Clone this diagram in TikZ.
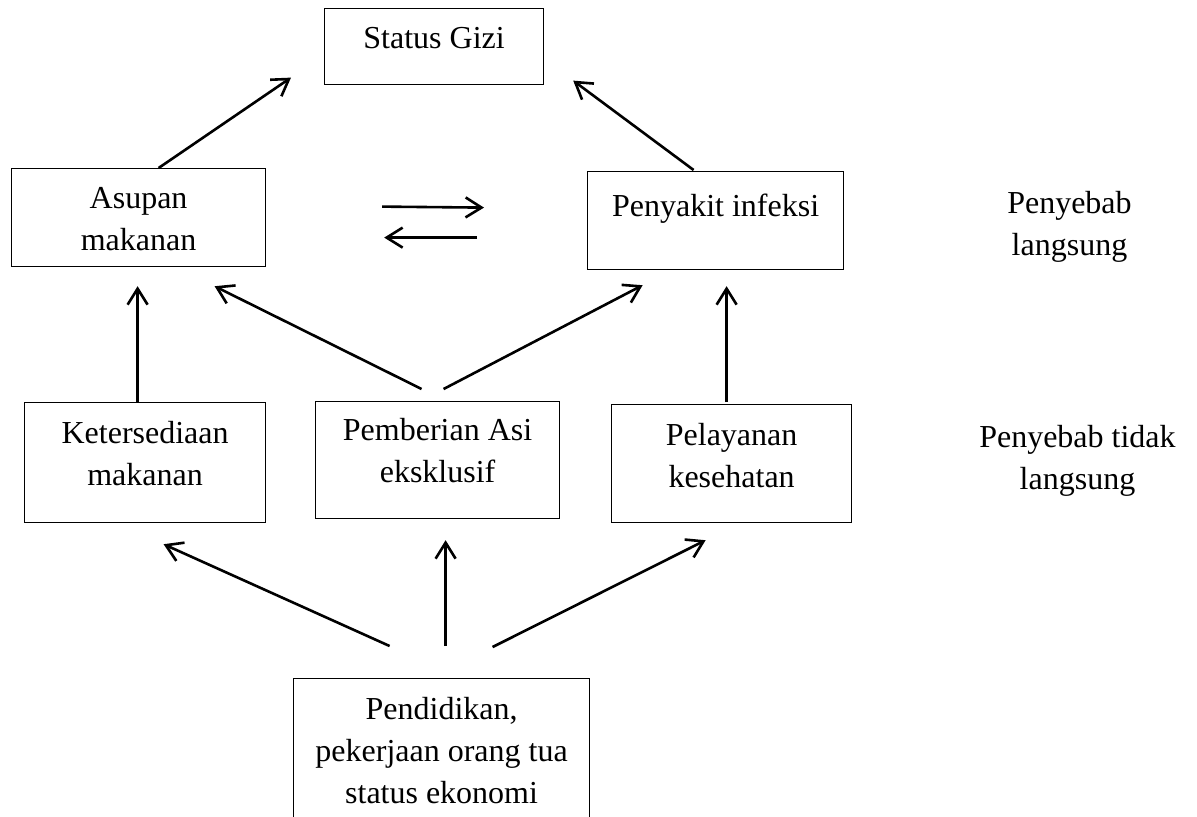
\documentclass[tikz,border=0pt]{standalone}
\usepackage{fontspec}
\setmainfont{Liberation Serif}
\usetikzlibrary{arrows.meta,positioning}

\begin{document}
\begin{tikzpicture}[x=0.5pt, y=-0.5pt,
	font=\fontsize{16}{21}\selectfont,
	box/.style={draw, line width=0.6pt, anchor=north west, align=center, inner xsep=0pt, inner ysep=0pt},
	arrow/.style={line width=1.3pt, -{Straight Barb[length=8pt, width=10pt]}}]
	\path [use as bounding box, clip] (0,0) rectangle (1197,816);

	\node [box, minimum width=109.5pt, text height=20pt, text depth=18pt] (status) at (324,8) {Status Gizi};
	\node [box, minimum width=127pt, text height=41pt, text depth=8pt] (asupan) at (11,168) {Asupan\\makanan};
	\node [box, minimum width=128pt, text height=22.5pt, text depth=26.5pt] (penyakit) at (587,171) {Penyakit infeksi};
	\node [box, minimum width=120.5pt, text height=41.5pt, text depth=18.5pt] (sedia) at (24,402) {Ketersediaan\\makanan};
	\node [box, minimum width=122pt, text height=40.5pt, text depth=18pt] (asi) at (315,401) {Pemberian Asi\\eksklusif};
	\node [box, minimum width=120pt, text height=41.5pt, text depth=17.5pt] (layanan) at (611,404) {Pelayanan\\kesehatan};
	\node [box, minimum width=148pt, text height=62.5pt, text depth=15pt] (didik) at (293,678) {Pendidikan,\\pekerjaan orang tua\\status ekonomi};

	\node [align=center, right=78pt of penyakit, yshift=-3.25pt] (langsung) {Penyebab\\langsung};
	\node [align=center, right=60pt of layanan, yshift=1.5pt] (tidaklangsung) {Penyebab tidak\\langsung};

	\draw [arrow] ([shift={(20,0)}]asupan.north) -- ([shift={(-33,31)}]status.west);
	\draw [arrow] ([shift={(-22,-1)}]penyakit.north) -- ([shift={(29,34)}]status.east);
	\draw [arrow] ([shift={(116,-11)}]asupan.east) -- ([shift={(-103,-13)}]penyakit.west);
	\draw [arrow] ([shift={(-110,17)}]penyakit.west) -- ([shift={(118,20)}]asupan.east);
	\draw [arrow] ([shift={(-7.5,0)}]sedia.north) -- ([shift={(-1,19)}]asupan.south);
	\draw [arrow] ([shift={(-16,-12)}]asi.north) -- ([shift={(76,19)}]asupan.south);
	\draw [arrow] ([shift={(6,-12)}]asi.north) -- ([shift={(-73,15)}]penyakit.south);
	\draw [arrow] ([shift={(-5,-2)}]layanan.north) -- ([shift={(11,16)}]penyakit.south);
	\draw [arrow] ([shift={(-52,-32)}]didik.north) -- ([shift={(18.5,21)}]sedia.south);
	\draw [arrow] ([shift={(4,-32)}]didik.north) -- ([shift={(8,21)}]asi.south);
	\draw [arrow] ([shift={(51,-31)}]didik.north) -- ([shift={(-26,17)}]layanan.south);
\end{tikzpicture}
\end{document}
